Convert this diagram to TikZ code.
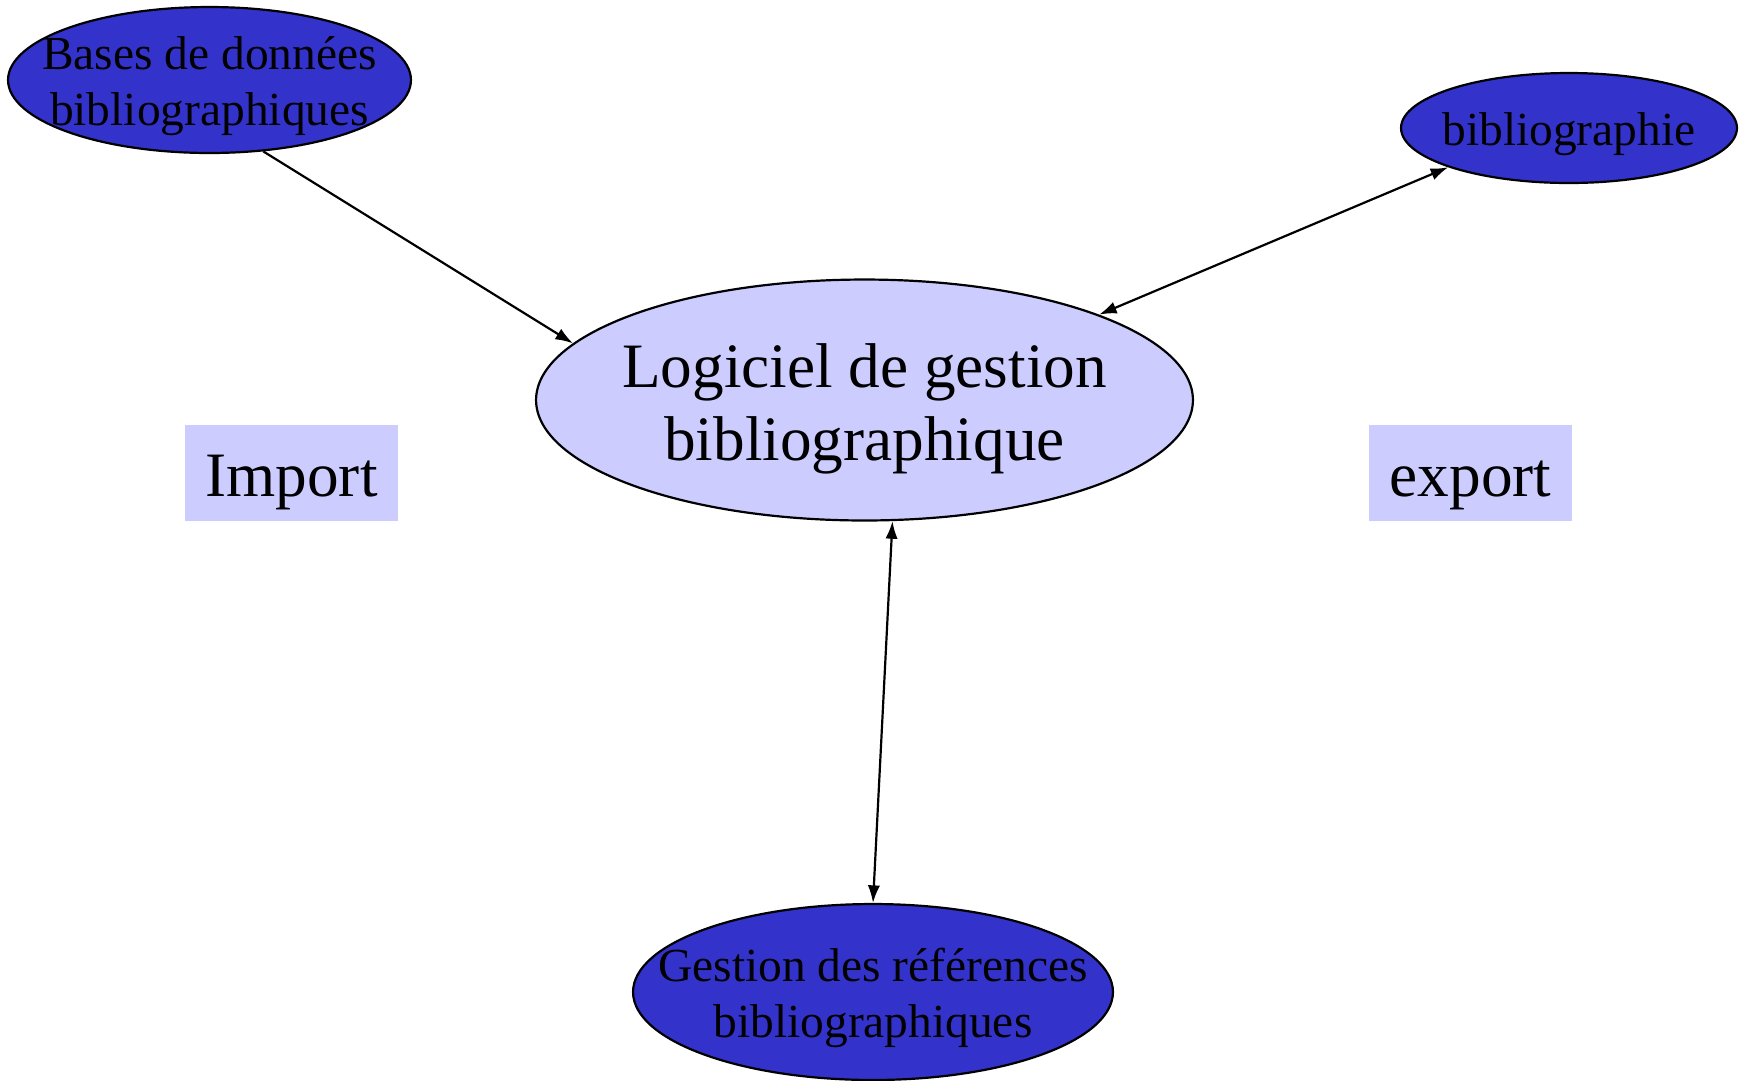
\documentclass[tikz,border=0pt]{standalone}
\usepackage{fontspec}
\setmainfont{Liberation Serif}
\usetikzlibrary{arrows.meta, shapes.geometric}
\definecolor{deepblue}{HTML}{3333CC}
\definecolor{paleblue}{HTML}{CCCCFF}

\begin{document}
\begin{tikzpicture}[x=0.02cm, y=-0.02cm, line width=1.25pt,
    >={Latex[length=10pt,width=7pt]},
    source/.style={ellipse, draw, fill=deepblue, inner sep=0pt},
    small/.style={align=center, yshift=-3.5pt, font=\fontsize{27}{32}\selectfont},
    big/.style={align=center, yshift=-5pt, font=\fontsize{36}{42}\selectfont},
    tag/.style={fill=paleblue, inner sep=0pt, text height=27pt, text depth=0pt,
      font=\fontsize{36}{42}\selectfont, minimum height=1.92cm}]
  \useasboundingbox (0,0) rectangle (1748,1080);
  \node[source, minimum width=8.06cm, minimum height=2.92cm,
    label={[small]center:Bases de données\\bibliographiques}] (bases) at (209.5,80) {};
  \node[source, minimum width=6.72cm, minimum height=2.2cm,
    label={[small]center:bibliographie}] (biblio) at (1569,128) {};
  \node[source, minimum width=9.6cm, minimum height=3.52cm,
    label={[small]center:Gestion des références\\bibliographiques}] (gestion) at (873,992) {};
  \node[ellipse, draw, fill=paleblue, inner sep=0pt, minimum width=13.14cm, minimum height=4.82cm,
    label={[big]center:Logiciel de gestion\\bibliographique}] (logiciel) at (864.5,400) {};
  \node[tag, minimum width=4.26cm] (import) at (291.5,473) {Import};
  \node[tag, minimum width=4.06cm] (export) at (1470.5,473) {export};
  \draw[->] (bases.-53) -- (logiciel.169);
  \draw[<->] (logiciel.20) -- (biblio.198);
  \draw[<->] (logiciel.-77) -- (gestion.90);
\end{tikzpicture}
\end{document}
